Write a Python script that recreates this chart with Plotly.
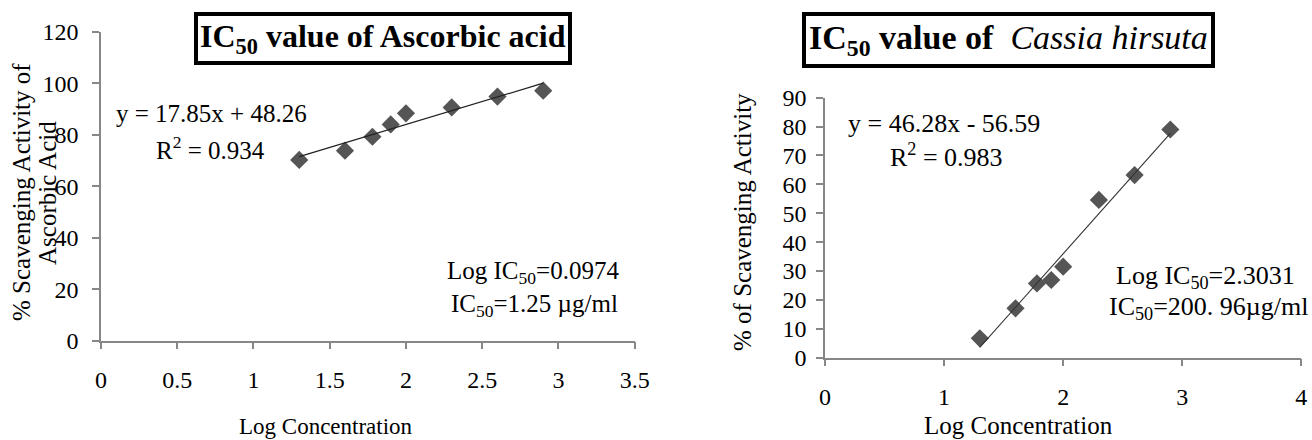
import plotly.graph_objects as go

# ---------------- data ----------------
ascorbic_logc = [1.30, 1.60, 1.78, 1.90, 2.00, 2.30, 2.60, 2.90]
ascorbic_pct = [70.2, 73.8, 79.2, 84.0, 88.3, 90.6, 94.8, 97.1]
ascorbic_fit = [17.85, 48.26]   # slope, intercept

cassia_logc = [1.30, 1.60, 1.78, 1.90, 2.00, 2.30, 2.60, 2.90]
cassia_pct = [6.7, 17.1, 25.7, 26.9, 31.5, 54.6, 63.2, 79.0]
cassia_fit = [46.28, -56.59]

left_xticks = [0, 0.5, 1, 1.5, 2, 2.5, 3, 3.5]
left_xticklabels = ["0", "0.5", "1", "1.5", "2", "2.5", "3", "3.5"]
left_yticks = [0, 20, 40, 60, 80, 100, 120]
right_xticks = [0, 1, 2, 3, 4]
right_yticks = [0, 10, 20, 30, 40, 50, 60, 70, 80, 90]

W, H = 1312, 440
FONT = "Liberation Serif"
MARK = "#555555"
AXIS = "#878787"


def px(x):
    return x / W


def py(y):
    return 1 - y / H


def fit_line(xs, coef):
    x0, x1 = min(xs), max(xs)
    return [x0, x1], [coef[0] * x0 + coef[1], coef[0] * x1 + coef[1]]


fig = go.Figure()

# left chart
fig.add_trace(go.Scatter(x=ascorbic_logc, y=ascorbic_pct, mode="markers",
                         marker=dict(symbol="diamond", size=14, color=MARK),
                         xaxis="x", yaxis="y", showlegend=False))
lx, ly = fit_line(ascorbic_logc, ascorbic_fit)
fig.add_trace(go.Scatter(x=lx, y=ly, mode="lines", line=dict(color="#222222", width=1.2),
                         xaxis="x", yaxis="y", showlegend=False))

# right chart
fig.add_trace(go.Scatter(x=cassia_logc, y=cassia_pct, mode="markers",
                         marker=dict(symbol="diamond", size=14, color=MARK),
                         xaxis="x2", yaxis="y2", showlegend=False))
rx, ry = fit_line(cassia_logc, cassia_fit)
fig.add_trace(go.Scatter(x=rx, y=ry, mode="lines", line=dict(color="#333333", width=1.1),
                         xaxis="x2", yaxis="y2", showlegend=False))

axis_common = dict(showgrid=False, zeroline=False, showline=True, linecolor=AXIS,
                   linewidth=1.5, ticks="outside", ticklen=7, tickcolor=AXIS,
                   tickwidth=1.5, automargin=False,
                   tickfont=dict(family=FONT, size=24, color="#000000"))

fig.update_layout(
    template="none",
    width=W, height=H,
    font=dict(family=FONT, size=24, color="#000000"),
    margin=dict(l=0, r=0, t=0, b=0, pad=0),
    paper_bgcolor="white", plot_bgcolor="white",
    showlegend=False,
    xaxis=dict(domain=[px(101), px(634.7)], range=[0, 3.5], anchor="y",
               tickvals=left_xticks, ticktext=left_xticklabels,
               ticklabelstandoff=10, **axis_common),
    yaxis=dict(domain=[py(340.7), py(31.7)], range=[0, 120], anchor="x",
               tickvals=left_yticks, ticklabelstandoff=9, **axis_common),
    xaxis2=dict(domain=[px(825), px(1301.3)], range=[0, 4], anchor="y2",
                tickvals=right_xticks, ticklabelstandoff=10, **axis_common),
    yaxis2=dict(domain=[py(357.7), py(97.7)], range=[0, 90], anchor="x2",
                tickvals=right_yticks, ticklabelstandoff=5, **axis_common),
)


def ann(text, x, y, size, xanchor="center", angle=0, **kw):
    fig.add_annotation(text=text, x=px(x), y=py(y), xref="paper", yref="paper",
                       xanchor=xanchor, yanchor="middle", showarrow=False,
                       textangle=angle, font=dict(family=FONT, size=size, color="#000000"), **kw)


# titles in boxes
ann("<b>IC<sub>50</sub> value of Ascorbic acid</b>", 382.5, 39, 32,
    bordercolor="#000000", borderwidth=4, borderpad=2, bgcolor="white")
ann("<b>IC<sub>50</sub> value of</b>&nbsp; <i>Cassia hirsuta</i>", 1008, 40, 34,
    bordercolor="#000000", borderwidth=4, borderpad=3, bgcolor="white")

# equations
ann("y = 17.85x + 48.26", 211, 113, 25)
ann("R<sup>2</sup> = 0.934", 210, 148, 25)
ann("y = 46.28x - 56.59", 944, 123, 26)
ann("R<sup>2</sup> = 0.983", 946, 155, 26)

# IC50 notes
ann("Log IC<sub>50</sub>=0.0974", 621, 272, 25, xanchor="right")
ann("IC<sub>50</sub>=1.25 µg/ml", 620, 305, 25, xanchor="right")
ann("Log IC<sub>50</sub>=2.3031", 1297, 277, 26, xanchor="right")
ann("IC<sub>50</sub>=200. 96µg/ml", 1311, 308, 26, xanchor="right")

# axis titles
ann("% Scavenging Activity of", 22, 192, 25, angle=-90)
ann("Ascorbic Acid", 47, 193, 25, angle=-90)
ann("% of Scavenging Activity", 742, 222, 25, angle=-90)
ann("Log Concentration", 326, 426, 23)
ann("Log Concentration", 1018.5, 425, 25)

fig.write_html("out.html", config={"displayModeBar": False},
               post_script="document.body.style.margin='0';document.body.style.padding='0';"
                           "document.body.style.overflow='hidden';")
